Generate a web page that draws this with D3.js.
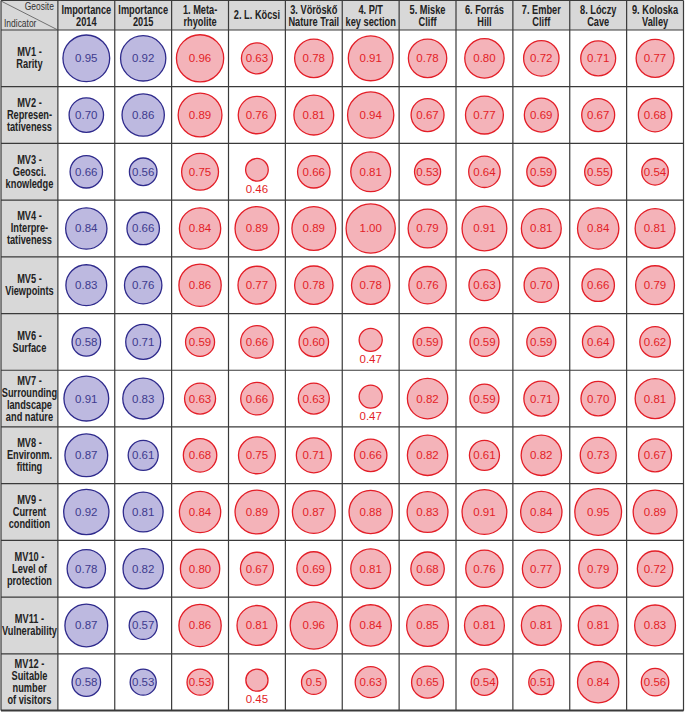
<!DOCTYPE html>
<html>
<head>
<meta charset="utf-8">
<script src="https://cdn.jsdelivr.net/npm/d3@7"></script>
<style>
  body { margin: 0; background: #fff; }
  .hdr { font-family: "Liberation Sans", Arial, sans-serif; font-weight: bold; font-size: 12px; fill: #222; }
  .corner { font-family: "Liberation Sans", Arial, sans-serif; font-size: 11px; fill: #333; }
  .val { font-family: "Liberation Sans", Arial, sans-serif; font-size: 11.5px; }
</style>
</head>
<body>
<div id="canvas"></div>
<script>
// columnas (encabezados en dos lineas)
const columns = [
  ["Importance", "2014"],
  ["Importance", "2015"],
  ["1. Meta-", "rhyolite"],
  ["2. L. Köcsi"],
  ["3. Vöröskő", "Nature Trail"],
  ["4. P/T", "key section"],
  ["5. Miske", "Cliff"],
  ["6. Forrás", "Hill"],
  ["7. Ember", "Cliff"],
  ["8. Lóczy", "Cave"],
  ["9. Koloska", "Valley"]
];

// indicadores (filas)
const indicators = [
  ["MV1 -", "Rarity"],
  ["MV2 -", "Represen-", "tativeness"],
  ["MV3 -", "Geosci.", "knowledge"],
  ["MV4 -", "Interpre-", "tativeness"],
  ["MV5 -", "Viewpoints"],
  ["MV6 -", "Surface"],
  ["MV7 -", "Surrounding", "landscape", "and nature"],
  ["MV8 -", "Environm.", "fitting"],
  ["MV9 -", "Current", "condition"],
  ["MV10 -", "Level of", "protection"],
  ["MV11 -", "Vulnerability"],
  ["MV12 -", "Suitable", "number", "of visitors"]
];

// importancia
const importance2014 = ["0.95", "0.70", "0.66", "0.84", "0.83", "0.58", "0.91", "0.87", "0.92", "0.78", "0.87", "0.58"];
const importance2015 = ["0.92", "0.86", "0.56", "0.66", "0.76", "0.71", "0.83", "0.61", "0.81", "0.82", "0.57", "0.53"];

// valores por geositio (una lista por indicador, geositios 1..9)
const geositeScores = [
  ["0.96", "0.63", "0.78", "0.91", "0.78", "0.80", "0.72", "0.71", "0.77"],
  ["0.89", "0.76", "0.81", "0.94", "0.67", "0.77", "0.69", "0.67", "0.68"],
  ["0.75", "0.46", "0.66", "0.81", "0.53", "0.64", "0.59", "0.55", "0.54"],
  ["0.84", "0.89", "0.89", "1.00", "0.79", "0.91", "0.81", "0.84", "0.81"],
  ["0.86", "0.77", "0.78", "0.78", "0.76", "0.63", "0.70", "0.66", "0.79"],
  ["0.59", "0.66", "0.60", "0.47", "0.59", "0.59", "0.59", "0.64", "0.62"],
  ["0.63", "0.66", "0.63", "0.47", "0.82", "0.59", "0.71", "0.70", "0.81"],
  ["0.68", "0.75", "0.71", "0.66", "0.82", "0.61", "0.82", "0.73", "0.67"],
  ["0.84", "0.89", "0.87", "0.88", "0.83", "0.91", "0.84", "0.95", "0.89"],
  ["0.80", "0.67", "0.69", "0.81", "0.68", "0.76", "0.77", "0.79", "0.72"],
  ["0.86", "0.81", "0.96", "0.84", "0.85", "0.81", "0.81", "0.81", "0.83"],
  ["0.53", "0.45", "0.5", "0.63", "0.65", "0.54", "0.51", "0.84", "0.56"]
];

const width = 685;
const height = 713;
const headerH = 30;
const narrow = 0.77; // simula una fuente condensada

const svg = d3.select("#canvas").append("svg")
  .attr("width", width)
  .attr("height", height);

// escalas: columna 0 = indicador
const colKeys = d3.range(columns.length + 1);
const x = d3.scaleBand().domain(colKeys).range([1, 683.5]);
const y = d3.scaleBand().domain(d3.range(indicators.length)).range([headerH, 710.5]);
const r = d3.scaleLinear().domain([0, 1]).range([0, 24.6]);

// fondos grises
svg.append("rect")
  .attr("x", x(0)).attr("y", 1)
  .attr("width", x.range()[1] - x(0)).attr("height", headerH - 1)
  .style("fill", "#d8d8d8");
svg.append("rect")
  .attr("x", x(0)).attr("y", headerH)
  .attr("width", x.bandwidth()).attr("height", y.range()[1] - headerH)
  .style("fill", "#d8d8d8");

// celdas de datos
const cells = [];
indicators.forEach((ind, i) => {
  cells.push({ row: i, col: 1, label: importance2014[i], kind: "imp" });
  cells.push({ row: i, col: 2, label: importance2015[i], kind: "imp" });
  geositeScores[i].forEach((v, j) => {
    cells.push({ row: i, col: j + 3, label: v, kind: "geo" });
  });
});
cells.forEach(d => { d.value = +d.label; });

const colors = {
  imp: { fill: "#bdb9e0", stroke: "#2e2a8c", text: "#3e3b8e" },
  geo: { fill: "#f4b3b9", stroke: "#e31e27", text: "#e31e27" }
};

const cx = d => x(d.col) + x.bandwidth() / 2;
const cy = d => y(d.row) + y.bandwidth() / 2 - (d.value < 0.5 ? 2 : 0);

svg.selectAll(".dot")
  .data(cells)
  .enter()
  .append("circle")
  .attr("class", "dot")
  .attr("cx", cx)
  .attr("cy", cy)
  .attr("r", d => r(d.value))
  .style("fill", d => colors[d.kind].fill)
  .style("stroke", d => colors[d.kind].stroke)
  .style("stroke-width", 1.3);

svg.selectAll(".val")
  .data(cells)
  .enter()
  .append("text")
  .attr("class", "val")
  .attr("x", cx)
  .attr("y", d => d.value < 0.5 ? cy(d) + r(d.value) + 12 : cy(d) + 4)
  .attr("text-anchor", "middle")
  .style("fill", d => colors[d.kind].text)
  .text(d => d.label);

// lineas de la tabla
const grid = svg.append("g").style("stroke", "#3a3a3a").style("stroke-width", 1.2);
colKeys.concat([colKeys.length]).forEach(c => {
  const xx = c < colKeys.length ? x(c) : x.range()[1];
  grid.append("line")
    .attr("x1", xx).attr("x2", xx)
    .attr("y1", 0.5).attr("y2", y.range()[1]);
});
[0.5, headerH].concat(d3.range(1, indicators.length).map(i => y(i))).concat([y.range()[1]]).forEach(yy => {
  grid.append("line")
    .attr("x1", x(0)).attr("x2", x.range()[1])
    .attr("y1", yy).attr("y2", yy);
});
grid.append("line")
  .attr("x1", x(0)).attr("x2", x.range()[1])
  .attr("y1", y.range()[1]).attr("y2", y.range()[1])
  .style("stroke-width", 2.2);

// texto condensado: escala horizontal sobre un grupo
const narrowText = (cls, px, py, lines, lh, anchor) => {
  const t = svg.append("text").attr("class", cls)
    .attr("text-anchor", anchor)
    .attr("transform", `translate(${px},${py}) scale(${narrow},1)`);
  lines.forEach((s, k) => {
    t.append("tspan").attr("x", 0).attr("y", k * lh).text(s);
  });
  return t;
};

// celda de la esquina
svg.append("line")
  .attr("x1", x(0)).attr("y1", 1)
  .attr("x2", x(1)).attr("y2", headerH)
  .style("stroke", "#555").style("stroke-width", 0.8);
narrowText("corner", x(1) - 4, 10, ["Geosite"], 0, "end");
narrowText("corner", x(0) + 3, 27, ["Indicator"], 0, "start");

// encabezados de columnas
columns.forEach((lines, i) => {
  const y0 = lines.length === 1 ? 19 : 13.5;
  narrowText("hdr", x(i + 1) + x.bandwidth() / 2, y0, lines, 13, "middle");
});

// etiquetas de indicadores
indicators.forEach((lines, i) => {
  const lh = 12;
  const y0 = y(i) + y.bandwidth() / 2 - (lines.length - 1) * lh / 2 + 4;
  narrowText("hdr", x(0) + x.bandwidth() / 2, y0, lines, lh, "middle");
});
</script>
</body>
</html>
